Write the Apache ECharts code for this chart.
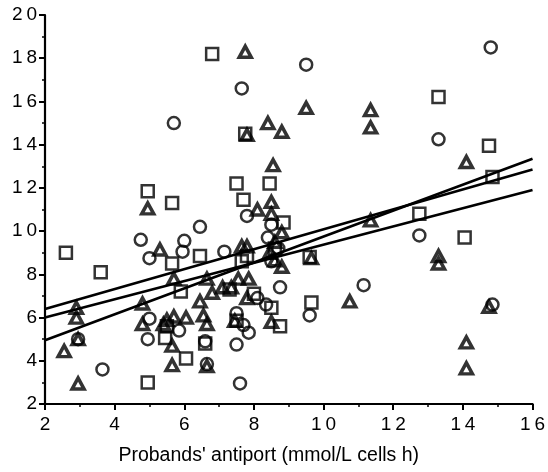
<!DOCTYPE html>
<html>
<head>
<meta charset="utf-8">
<script src="https://cdn.jsdelivr.net/npm/echarts@6/dist/echarts.min.js"></script>
<style>
html,body{margin:0;padding:0;background:#fff;}
#c{width:548px;height:472px;}
</style>
</head>
<body>
<div id="c"></div>
<script>
// Data
const circles = [[5.7,15.0],[7.65,16.6],[9.5,17.7],[14.8,18.5],[13.3,14.25],[6.45,10.2],[7.8,10.7],[4.75,9.6],[5.0,8.75],[6.0,9.55],[5.95,9.05],[7.15,9.05],[8.4,9.7],[8.5,10.3],[3.65,3.6],[4.95,5.0],[5.0,5.95],[7.6,2.95],[7.5,4.75],[7.5,6.2],[7.7,5.65],[7.85,5.3],[5.85,5.4],[8.1,6.9],[8.35,6.6],[8.75,7.4],[9.6,6.1],[11.15,7.5],[12.75,9.8],[14.85,6.6],[6.65,3.85],[2.95,5.0],[8.7,9.2],[8.5,8.6],[6.6,4.9]];
const squares = [[6.8,18.2],[2.6,9.0],[3.6,8.1],[4.95,11.85],[5.65,11.3],[4.95,3.0],[7.5,12.2],[7.7,11.45],[8.45,12.2],[5.65,8.5],[6.45,8.85],[5.9,7.2],[5.45,5.05],[6.05,4.1],[6.6,4.8],[5.5,5.6],[7.65,8.6],[7.8,8.85],[7.5,5.85],[7.75,14.5],[8.85,10.4],[8.5,6.45],[8.75,5.6],[9.65,6.7],[12.75,10.8],[13.3,16.2],[14.75,13.95],[14.85,12.5],[14.05,9.7],[9.6,8.8],[8.6,9.2],[7.3,7.3],[8.0,7.1]];
const triangles = [[7.75,18.3],[7.8,14.45],[8.4,15.0],[8.8,14.6],[9.5,15.7],[11.35,15.6],[11.35,14.8],[14.1,13.2],[8.55,13.05],[4.95,11.05],[8.1,11.0],[8.5,11.35],[8.5,10.8],[5.3,9.15],[7.65,9.3],[5.7,7.8],[6.65,7.8],[6.8,7.15],[7.1,7.4],[7.35,7.4],[7.55,7.8],[7.85,7.8],[7.8,6.9],[2.9,6.45],[2.9,6.0],[2.55,4.45],[2.95,2.95],[2.95,5.0],[4.8,6.65],[4.8,5.7],[5.65,4.7],[5.65,3.8],[6.65,3.75],[5.4,5.7],[5.7,6.05],[6.05,6.0],[6.45,6.75],[6.55,6.1],[6.65,5.7],[5.5,5.9],[7.45,5.85],[8.45,9.0],[8.6,8.65],[8.8,8.35],[8.8,9.95],[9.65,8.75],[10.75,6.75],[11.35,10.5],[13.3,8.85],[13.3,8.5],[14.1,4.85],[14.1,3.65],[14.75,6.5],[8.5,5.8],[7.8,9.3],[8.6,9.5]];
// Regression lines: value at x=2 and at x=16
const lineX = [2, 16];
const lineStart = [6.0, 6.4, 4.95];
const lineEnd = [11.9, 12.85, 13.35];
const xTicks = [2, 16, 2];  // min, max, interval
const yTicks = [2, 20, 2];
const xTitle = "Probands' antiport (mmol/L cells h)";

const font = "'Liberation Sans', Arial, Helvetica, sans-serif";
const spaced = v => String(v).split('').join('\u2009');

const chart = echarts.init(document.getElementById('c'), null, {renderer: 'canvas'});
const axisCommon = {
  type: 'value',
  axisLine: {show: true, onZero: false, lineStyle: {color: '#000', width: 2.2}},
  axisTick: {show: true, inside: false, length: 6, lineStyle: {color: '#000', width: 2}},
  minorTick: {show: true, splitNumber: 2, length: 3, lineStyle: {color: '#000', width: 1.5}},
  splitLine: {show: false},
  axisLabel: {color: '#000', fontSize: 19, fontFamily: font, formatter: spaced}
};
const markerStyle = {color: 'rgba(0,0,0,0)', borderColor: '#000', borderWidth: 2.5};
const series = [];
lineStart.forEach((s, i) => {
  series.push({
    type: 'line', data: [[lineX[0], s], [lineX[1], lineEnd[i]]],
    symbol: 'none', silent: true, z: 1,
    lineStyle: {color: '#000', width: 2.6}
  });
});
series.push({type: 'scatter', data: circles, symbol: 'circle', symbolSize: 12, itemStyle: markerStyle, z: 3});
series.push({type: 'scatter', data: squares, symbol: 'rect', symbolSize: 12, itemStyle: markerStyle, z: 3});
series.push({type: 'scatter', data: triangles, symbol: 'triangle', symbolSize: [12, 11], itemStyle: {color: 'rgba(0,0,0,0)', borderColor: '#000', borderWidth: 3.5}, z: 4});

chart.setOption({
  animation: false,
  grid: {left: 45, right: 13, top: 15, bottom: 68, containLabel: false},
  xAxis: Object.assign({}, axisCommon, {
    min: xTicks[0], max: xTicks[1], interval: xTicks[2],
    axisLabel: Object.assign({}, axisCommon.axisLabel, {margin: 11}),
    name: xTitle, nameLocation: 'middle', nameGap: 42,
    nameTextStyle: {color: '#000', fontSize: 19.5, fontFamily: font, padding: [0, 40, 0, 0]}
  }),
  yAxis: Object.assign({}, axisCommon, {
    min: yTicks[0], max: yTicks[1], interval: yTicks[2],
    axisLabel: Object.assign({}, axisCommon.axisLabel, {margin: 8})
  }),
  series: series
});
</script>
</body>
</html>
